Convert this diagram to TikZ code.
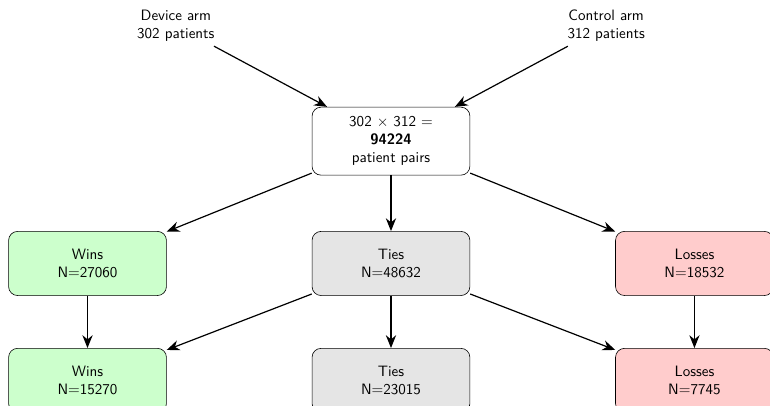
\documentclass[tikz,border=0pt]{standalone}
\usepackage{amsmath}
\usepackage{tikz}
\usetikzlibrary{positioning,arrows.meta}

\begin{document}
\begin{tikzpicture}[
  >={Stealth[length=3mm,width=2.4mm]},
  node distance=1.3cm and 3.39cm,
  font=\sffamily,
  arm/.style={align=center, inner sep=3pt},
  pairbox/.style={draw, rounded corners=6pt, fill=white, align=center,
                  minimum width=3.69cm, minimum height=1.59cm},
  catbox/.style={draw, rounded corners=6pt, align=center,
                 minimum width=3.69cm, minimum height=1.5cm},
  winbox/.style={catbox, fill=green!20},
  tiebox/.style={catbox, fill=gray!20},
  lossbox/.style={catbox, fill=red!20},
  flow/.style={->, thick}
]
\useasboundingbox (-9.14,-6.17) rectangle (8.86,3.30);

\node[pairbox] (pairs) {302 $\times$ 312 =\\\textbf{94224}\\patient pairs};
\node[arm] (device)  at (-5.03,2.70) {Device arm\\302 patients};
\node[arm] (control) at (5.03,2.70)  {Control arm\\312 patients};

\node[tiebox, below=of pairs]   (ties1)   {Ties\\N=48632};
\node[winbox, left=of ties1]    (wins1)   {Wins\\N=27060};
\node[lossbox, right=of ties1]  (losses1) {Losses\\N=18532};

\node[tiebox, below=1.22cm of ties1]     (ties2)   {Ties\\N=23015};
\node[winbox, below=1.22cm of wins1]     (wins2)   {Wins\\N=15270};
\node[lossbox, below=1.22cm of losses1]  (losses2) {Losses\\N=7745};

\draw[flow] (device)  -- (pairs);
\draw[flow] (control) -- (pairs);
\draw[flow] (pairs)   -- (wins1);
\draw[flow] (pairs)   -- (ties1);
\draw[flow] (pairs)   -- (losses1);
\draw[flow] (wins1)   -- (wins2);
\draw[flow] (ties1)   -- (wins2);
\draw[flow] (ties1)   -- (ties2);
\draw[flow] (ties1)   -- (losses2);
\draw[flow] (losses1) -- (losses2);
\end{tikzpicture}
\end{document}
